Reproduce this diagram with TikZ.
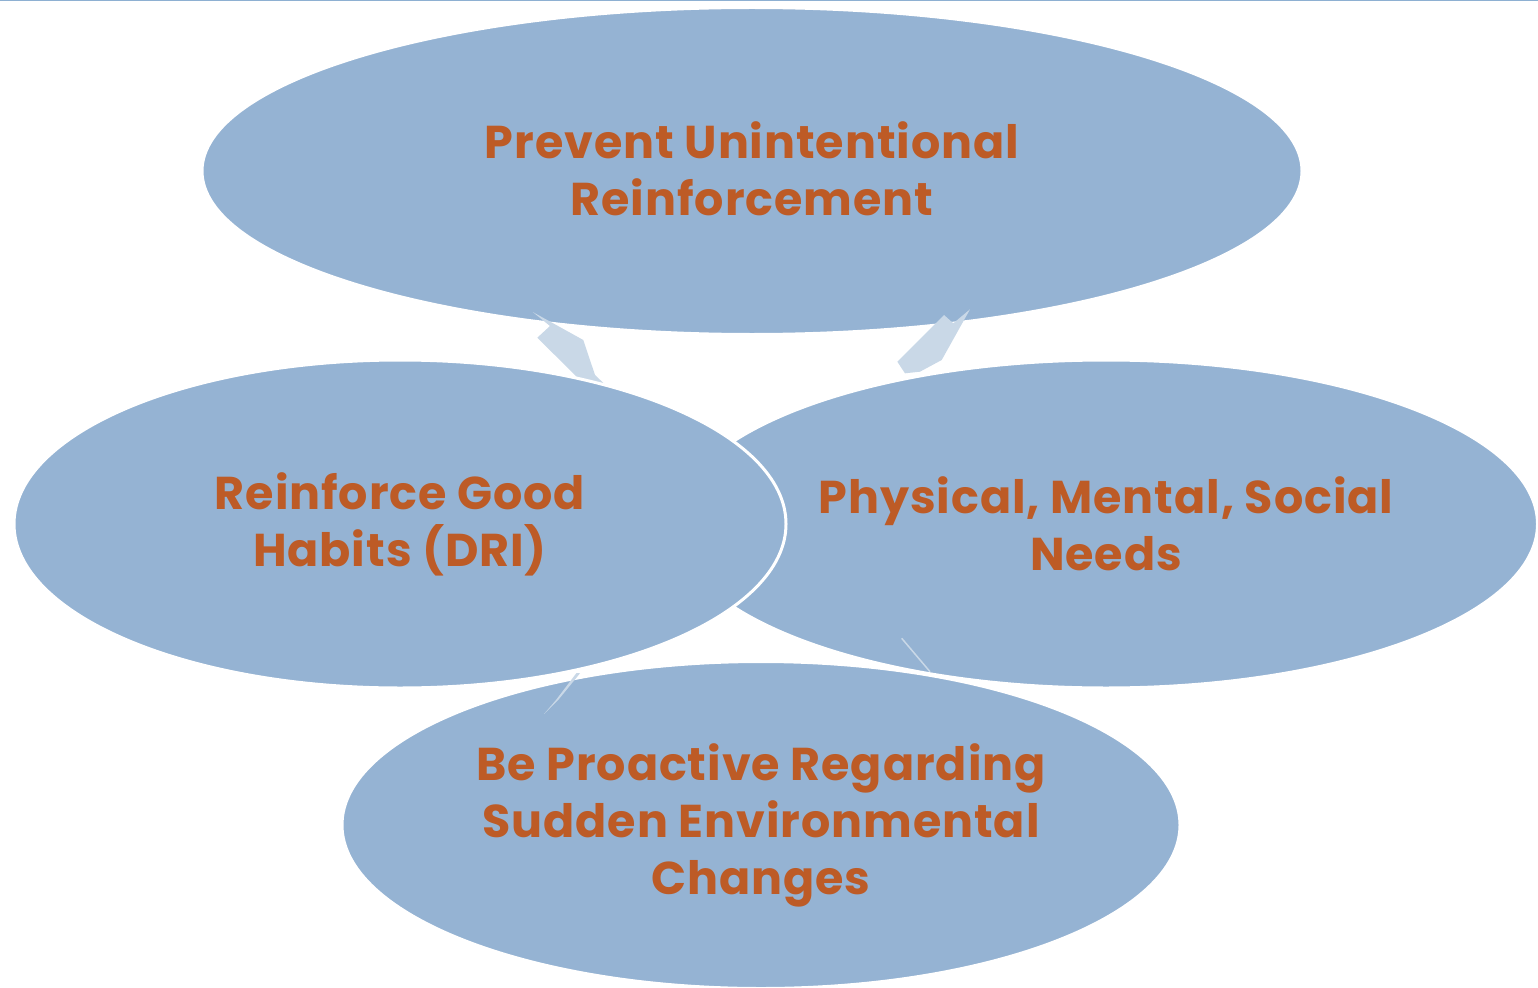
\documentclass[tikz,border=0pt]{standalone}
\usepackage{fontspec}
\setmainfont{Poppins}[LetterSpace=2.0]
\usetikzlibrary{shapes.geometric}
\definecolor{ellfill}{RGB}{149,179,211}
\definecolor{txtcol}{RGB}{189,91,38}
\definecolor{arrcol}{RGB}{201,216,231}
\definecolor{topline}{RGB}{142,176,210}
\tikzset{
  bubble/.style={ellipse, fill=ellfill, draw=white, line width=3pt, inner sep=0pt,
    text=txtcol, align=center, font=\fontsize{46}{57}\selectfont\bfseries},
  cyclearrow/.style={fill=arrcol, draw=none}
}
\begin{document}
\begin{tikzpicture}[x=1pt,y=-1pt]
\useasboundingbox (0,0) rectangle (1538,987);
\draw[topline, line width=1.5pt] (0,0.75) -- (1538,0.75);
% top ellipse
\node[bubble, minimum width=1100pt, minimum height=327pt] (top) at (752,171)
  {\raisebox{4pt}{Prevent Unintentional}\\\raisebox{4pt}{Reinforcement}};
% arrows from top
\fill[cyclearrow] (532.7,312) -- (583.3,340) -- (595,375) -- (610,389.3) -- (585,385) -- (537.3,337.7) -- (550,326) -- cycle;
\fill[cyclearrow] (944,315) -- (953.3,323.3) -- (970,309.3) -- (941.7,360) -- (920,371.7) -- (905,373.3) -- (897.3,361.7) -- cycle;
% right ellipse
\node[bubble, minimum width=863pt, minimum height=328pt] (right) at (1106,524)
  {Physical, Mental, Social\\Needs};
% left ellipse
\node[bubble, minimum width=772pt, minimum height=328pt] (left) at (400,524)
  {Reinforce Good\\Habits (DRI)};
\draw[arrcol, line width=1.5pt] (901.7,638.3) -- (930,671.7);
% bottom ellipse
\node[bubble, minimum width=838pt, minimum height=327pt] (bottom) at (761,825)
  {Be Proactive Regarding\\Sudden Environmental\\Changes};
\fill[cyclearrow] (580,673.3) -- (576.5,673) -- (556,700) -- (544,714) -- (559,699) -- cycle;
\end{tikzpicture}
\end{document}
